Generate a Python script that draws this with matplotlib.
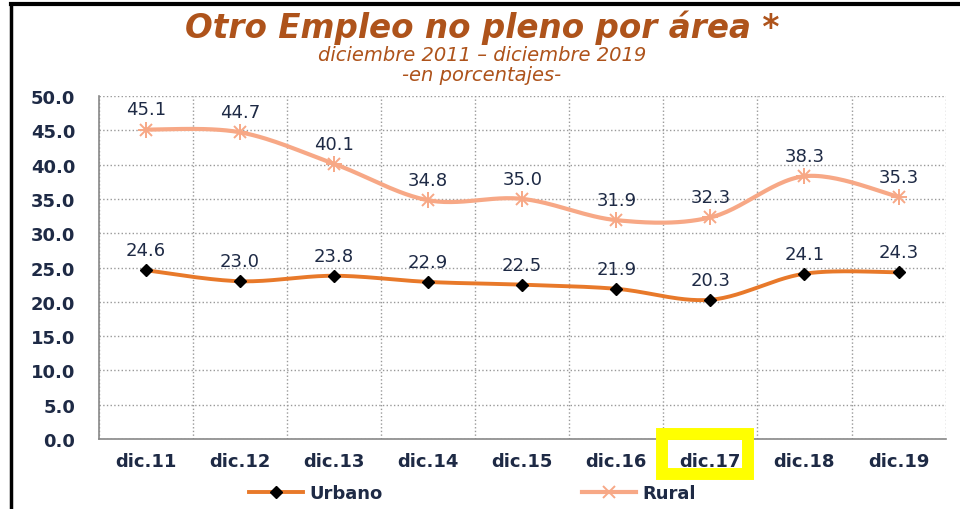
import numpy as np
import matplotlib.pyplot as plt
import matplotlib.patches as patches
from matplotlib.lines import Line2D

# data
periodos = ['dic.11', 'dic.12', 'dic.13', 'dic.14', 'dic.15', 'dic.16', 'dic.17', 'dic.18', 'dic.19']
urbano = [24.6, 23.0, 23.8, 22.9, 22.5, 21.9, 20.3, 24.1, 24.3]
rural = [45.1, 44.7, 40.1, 34.8, 35.0, 31.9, 32.3, 38.3, 35.3]

c_urb = '#E8792A'
c_rur = '#F7A886'
c_txt = '#1E2A45'
c_tit = '#AE531B'


def smooth(x, y, n=30):
    # catmull-rom style curve, like excel's smoothed line
    x = np.asarray(x, float)
    y = np.asarray(y, float)
    px = np.concatenate(([x[0]], x, [x[-1]]))
    py = np.concatenate(([y[0]], y, [y[-1]]))
    xs, ys = [], []
    t = np.linspace(0, 1, n)
    for i in range(1, len(px) - 2):
        p0x, p1x, p2x, p3x = px[i - 1], px[i], px[i + 1], px[i + 2]
        p0y, p1y, p2y, p3y = py[i - 1], py[i], py[i + 1], py[i + 2]
        c1x, c1y = p1x + (p2x - p0x) / 6, p1y + (p2y - p0y) / 6
        c2x, c2y = p2x - (p3x - p1x) / 6, p2y - (p3y - p1y) / 6
        bx = (1 - t) ** 3 * p1x + 3 * (1 - t) ** 2 * t * c1x + 3 * (1 - t) * t ** 2 * c2x + t ** 3 * p2x
        by = (1 - t) ** 3 * p1y + 3 * (1 - t) ** 2 * t * c1y + 3 * (1 - t) * t ** 2 * c2y + t ** 3 * p2y
        xs.append(bx)
        ys.append(by)
    return np.concatenate(xs), np.concatenate(ys)


fig = plt.figure(figsize=(9.6, 5.1), dpi=100)
ax = fig.add_axes([0.103, 0.137, 0.882, 0.673])

x = np.arange(len(periodos))

sx, sy = smooth(x, rural)
ax.plot(sx, sy, color=c_rur, lw=3, zorder=3)
ax.plot(x, rural, ls='none', marker='x', ms=9, mew=1.4, color=c_rur, zorder=4)
ax.plot(x, rural, ls='none', marker='+', ms=11, mew=1.4, color=c_rur, zorder=4)

sx, sy = smooth(x, urbano)
ax.plot(sx, sy, color=c_urb, lw=2.8, zorder=3)
ax.plot(x, urbano, ls='none', marker='D', ms=6.5, color='black', zorder=4)

for xi, v in zip(x, rural):
    ax.annotate(f'{v:.1f}', (xi, v), xytext=(0, 8), textcoords='offset points',
                ha='center', va='bottom', fontsize=13, color=c_txt)
for xi, v in zip(x, urbano):
    ax.annotate(f'{v:.1f}', (xi, v), xytext=(0, 8), textcoords='offset points',
                ha='center', va='bottom', fontsize=13, color=c_txt)

ax.set_xlim(-0.5, len(periodos) - 0.5)
ax.set_ylim(0, 50)
ax.set_yticks(np.arange(0, 50.1, 5))
ax.set_yticklabels([f'{v:.1f}' for v in np.arange(0, 50.1, 5)])
ax.set_xticks(x)
ax.set_xticklabels(periodos)
ax.set_xticks(np.arange(-0.5, len(periodos)), minor=True)
ax.tick_params(axis='both', which='both', length=0, labelsize=13, labelcolor=c_txt, pad=9)
for lab in ax.get_xticklabels() + ax.get_yticklabels():
    lab.set_fontweight('bold')
ax.tick_params(axis='y', pad=17)

ax.grid(axis='y', which='major', ls=':', color='#999999', lw=1)
ax.grid(axis='x', which='minor', ls=':', color='#999999', lw=1)
for s in ['top', 'right']:
    ax.spines[s].set_visible(False)
ax.spines['left'].set_color('#888888')
ax.spines['bottom'].set_color('#888888')
ax.spines['left'].set_linewidth(1.2)
ax.spines['bottom'].set_linewidth(1.2)

# titles
fig.text(0.502, 0.946, 'Otro Empleo no pleno por área *', ha='center', va='center',
         fontsize=23.5, fontweight='bold', style='italic', color=c_tit)
fig.text(0.502, 0.891, 'diciembre 2011 – diciembre 2019', ha='center', va='center',
         fontsize=14, style='italic', color=c_tit)
fig.text(0.502, 0.852, '-en porcentajes-', ha='center', va='center',
         fontsize=14, style='italic', color=c_tit)

# legend
h_urb = Line2D([], [], color=c_urb, lw=2.8, marker='D', ms=6, mfc='black', mec='black')
h_rur = Line2D([], [], color=c_rur, lw=3, marker='x', ms=9, mew=1.4)
leg = fig.legend([h_urb, h_rur], ['Urbano', 'Rural'], loc='center', bbox_to_anchor=(0.492, 0.031),
                 ncol=2, frameon=False, handlelength=3, handletextpad=0.35, columnspacing=11,
                 borderpad=0, prop={'size': 13, 'weight': 'bold'})
for t in leg.get_texts():
    t.set_color(c_txt)

# frame lines around the slide
fig.add_artist(Line2D([0.0115, 0.0115], [0, 0.99], color='black', lw=2.5, transform=fig.transFigure))
fig.add_artist(Line2D([0.0115, 1.0], [0.99, 0.99], color='black', lw=3, transform=fig.transFigure))

# yellow highlight box on dic.17
fig.add_artist(patches.Rectangle((662 / 960, 1 - 475 / 510), 86 / 960, 40 / 510, fill=False,
                                 ec='#FFFF00', lw=8.6, transform=fig.transFigure))

fig.savefig('out.png', dpi=100)
